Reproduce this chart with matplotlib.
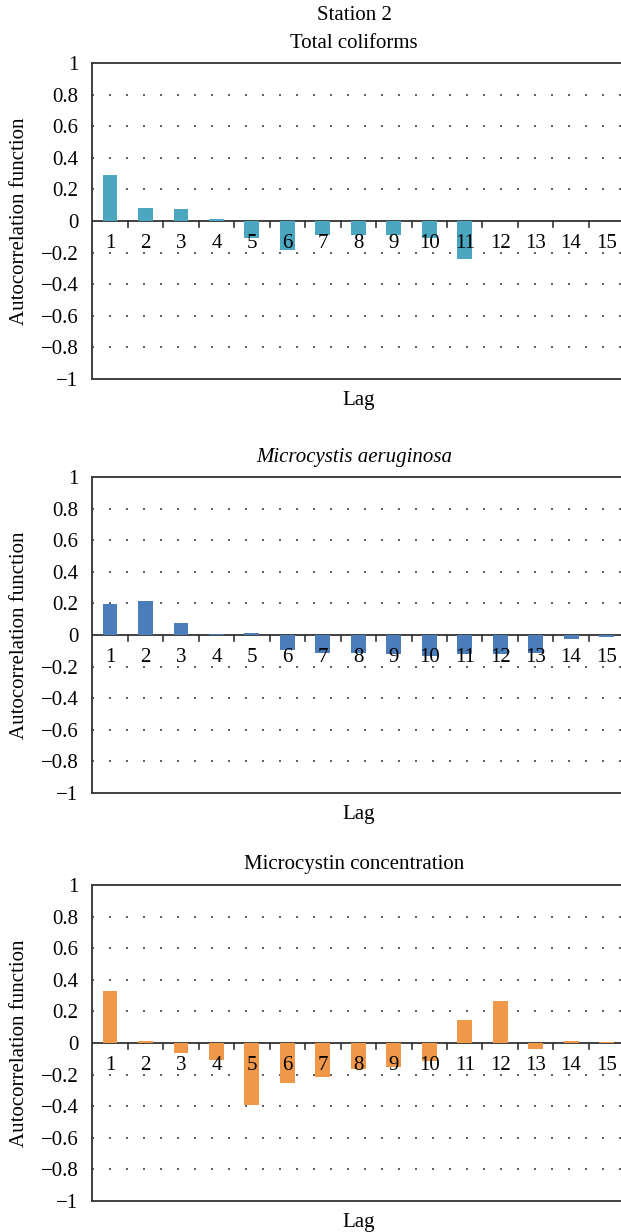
import matplotlib
matplotlib.use("Agg")
import matplotlib.pyplot as plt
import numpy as np

lags = list(range(1, 16))
coliforms = [0.29, 0.082, 0.074, 0.013, -0.107, -0.185, -0.09, -0.09, -0.09, -0.107, -0.238, -0.003, -0.003, -0.003, -0.003]
microcystis = [0.198, 0.215, 0.074, 0.004, 0.011, -0.096, -0.113, -0.113, -0.122, -0.135, -0.122, -0.122, -0.113, -0.024, -0.013]
microcystin = [0.33, 0.011, -0.066, -0.109, -0.39, -0.25, -0.215, -0.162, -0.153, -0.117, 0.145, 0.268, -0.038, 0.011, 0.004]

titles = ["Total coliforms", "Microcystis aeruginosa", "Microcystin concentration"]
title_styles = ["normal", "italic", "normal"]
colors = ["#4BA6BF", "#4A7DBA", "#F0984A"]
series = [coliforms, microcystis, microcystin]
yticks = [-1, -0.8, -0.6, -0.4, -0.2, 0, 0.2, 0.4, 0.6, 0.8, 1]
ytick_labels = ["\u22121", "\u22120.8", "\u22120.6", "\u22120.4", "\u22120.2", "0", "0.2", "0.4", "0.6", "0.8", "1"]

plt.rcParams['font.family'] = ['Liberation Serif', 'DejaVu Serif']
FS = 15

W, H = 621, 1232
fig = plt.figure(figsize=(W / 100, H / 100), dpi=100)

left = 92.3 / W
width = 532 / W
tops = [63, 477, 885]
hpx = 316

for i, (vals, col, title, style) in enumerate(zip(series, colors, titles, title_styles)):
    top = tops[i]
    ax = fig.add_axes([left, 1 - (top + hpx) / H, width, hpx / H])
    ax.set_xlim(0.5, 15.5)
    ax.set_ylim(-1, 1)
    for yv in yticks:
        if yv not in (-1, 0, 1):
            ax.axhline(yv, color="#444444", linestyle=(0, (1.2, 9)), linewidth=1.2, zorder=0)
    ax.bar(lags, vals, width=0.42, color=col, edgecolor="none", zorder=2)
    ax.axhline(0, color="#333333", linewidth=1.3, zorder=1)
    for xb in np.arange(1.5, 15.5, 1.0):
        ax.plot([xb, xb], [0, -0.035], color="#333333", linewidth=1.2, zorder=3)
    for x, lab in zip(lags, lags):
        ax.text(x, -0.085, str(lab), ha="center", va="top", fontsize=FS, zorder=4)
    ax.set_xticks([])
    ax.set_yticks(yticks)
    ax.set_yticklabels(ytick_labels, fontsize=FS)
    ax.tick_params(axis="y", length=0, pad=10)
    for s in ["left", "bottom", "top"]:
        ax.spines[s].set_color("#333333")
        ax.spines[s].set_linewidth(1.3)
    ax.spines["right"].set_visible(False)
    fig.text(20 / W, 1 - (top + hpx / 2) / H, "Autocorrelation function", rotation=90,
             ha="center", va="center", fontsize=FS)
    cx = left + width / 2 - 4 / W
    fig.text(cx, 1 - (top - 20) / H, title, ha="center", va="center", fontsize=FS, style=style)
    fig.text(left + width / 2, 1 - (top + hpx + 21) / H, "Lag", ha="center", va="center", fontsize=FS)

fig.text(left + width / 2 - 4 / W, 1 - 15 / H, "Station 2", ha="center", va="center", fontsize=FS)

fig.savefig("out.png", dpi=100)
